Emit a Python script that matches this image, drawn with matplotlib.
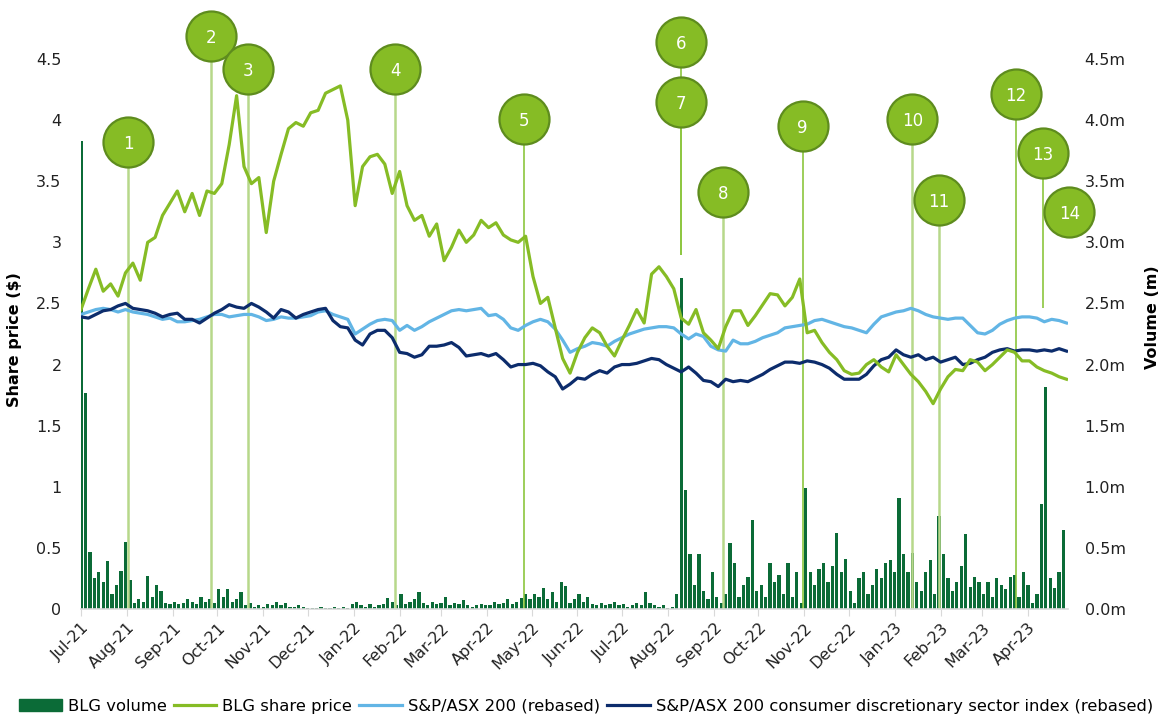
import numpy as np
import pandas as pd
import matplotlib
matplotlib.use('Agg')
import matplotlib.pyplot as plt
import matplotlib.dates as mdates
from matplotlib.patches import Patch
from matplotlib.lines import Line2D

# Price series, sampled every 5 days from 1 Jul 2021
price_dates = pd.date_range('2021-07-01', periods=134, freq='5D')

blg_price = [
    2.45, 2.62, 2.78, 2.60, 2.66, 2.56, 2.75, 2.83, 2.69, 3.00,
    3.04, 3.22, 3.32, 3.42, 3.25, 3.40, 3.22, 3.42, 3.40, 3.48,
    3.80, 4.20, 3.62, 3.48, 3.53, 3.08, 3.50, 3.72, 3.93, 3.98,
    3.95, 4.06, 4.08, 4.22, 4.25, 4.28, 4.00, 3.30, 3.62, 3.70,
    3.72, 3.64, 3.40, 3.58, 3.30, 3.18, 3.22, 3.05, 3.15, 2.85,
    2.96, 3.10, 3.00, 3.06, 3.18, 3.12, 3.16, 3.06, 3.02, 3.00,
    3.05, 2.72, 2.50, 2.55, 2.30, 2.05, 1.93, 2.10, 2.22, 2.30,
    2.26, 2.15, 2.07, 2.20, 2.32, 2.45, 2.34, 2.74, 2.80, 2.72,
    2.62, 2.38, 2.33, 2.45, 2.26, 2.20, 2.13, 2.31, 2.44, 2.44,
    2.32, 2.40, 2.49, 2.58, 2.57, 2.48, 2.55, 2.70, 2.26, 2.28,
    2.18, 2.10, 2.04, 1.95, 1.92, 1.93, 2.00, 2.04, 1.98, 1.94,
    2.08, 2.00, 1.92, 1.86, 1.78, 1.68, 1.80, 1.90, 1.96, 1.95,
    2.04, 2.02, 1.95, 2.00, 2.06, 2.12, 2.10, 2.03, 2.03, 1.98,
    1.95, 1.93, 1.90, 1.88,
]

asx200 = [
    2.41, 2.43, 2.45, 2.46, 2.45, 2.43, 2.45, 2.43, 2.42, 2.41,
    2.39, 2.37, 2.38, 2.35, 2.35, 2.36, 2.37, 2.39, 2.41, 2.41,
    2.39, 2.40, 2.41, 2.41, 2.39, 2.36, 2.37, 2.39, 2.38, 2.38,
    2.39, 2.40, 2.43, 2.44, 2.41, 2.39, 2.37, 2.25, 2.29, 2.33,
    2.36, 2.37, 2.36, 2.28, 2.32, 2.28, 2.31, 2.35, 2.38, 2.41,
    2.44, 2.45, 2.44, 2.45, 2.46, 2.40, 2.41, 2.37, 2.30, 2.28,
    2.32, 2.35, 2.37, 2.35, 2.29, 2.20, 2.10, 2.13, 2.15, 2.18,
    2.17, 2.15, 2.19, 2.22, 2.25, 2.27, 2.29, 2.30, 2.31, 2.31,
    2.30, 2.25, 2.21, 2.25, 2.23, 2.15, 2.12, 2.11, 2.20, 2.17,
    2.17, 2.19, 2.22, 2.24, 2.26, 2.30, 2.31, 2.32, 2.33, 2.36,
    2.37, 2.35, 2.33, 2.31, 2.30, 2.28, 2.26, 2.33, 2.39, 2.41,
    2.43, 2.44, 2.46, 2.44, 2.41, 2.39, 2.38, 2.37, 2.38, 2.38,
    2.32, 2.26, 2.25, 2.28, 2.33, 2.36, 2.38, 2.39, 2.39, 2.38,
    2.35, 2.37, 2.36, 2.34,
]

asx200_discretionary = [
    2.39, 2.38, 2.41, 2.44, 2.45, 2.48, 2.50, 2.46, 2.45, 2.44,
    2.42, 2.39, 2.41, 2.42, 2.37, 2.37, 2.34, 2.38, 2.42, 2.45,
    2.49, 2.47, 2.46, 2.50, 2.47, 2.43, 2.38, 2.45, 2.43, 2.38,
    2.41, 2.43, 2.45, 2.46, 2.36, 2.31, 2.30, 2.20, 2.16, 2.25,
    2.28, 2.28, 2.22, 2.10, 2.09, 2.06, 2.08, 2.15, 2.15, 2.16,
    2.18, 2.14, 2.07, 2.08, 2.09, 2.07, 2.09, 2.04, 1.98, 2.00,
    2.00, 2.01, 1.99, 1.94, 1.90, 1.80, 1.84, 1.89, 1.88, 1.92,
    1.95, 1.93, 1.98, 2.00, 2.00, 2.01, 2.03, 2.05, 2.04, 2.00,
    1.97, 1.94, 1.98, 1.93, 1.87, 1.86, 1.82, 1.88, 1.86, 1.87,
    1.86, 1.89, 1.92, 1.96, 1.99, 2.02, 2.02, 2.01, 2.03, 2.02,
    2.00, 1.97, 1.92, 1.88, 1.88, 1.88, 1.92, 1.99, 2.04, 2.06,
    2.12, 2.08, 2.06, 2.08, 2.04, 2.06, 2.02, 2.04, 2.06, 2.00,
    2.01, 2.04, 2.06, 2.10, 2.12, 2.13, 2.11, 2.12, 2.12, 2.11,
    2.12, 2.11, 2.13, 2.11,
]

# Volume (m), sampled every 3 days from 1 Jul 2021
vol_dates = pd.date_range('2021-07-01', periods=222, freq='3D')

blg_volume = [
    3.83, 1.77, 0.47, 0.25, 0.30, 0.22, 0.39, 0.12, 0.20, 0.31,
    0.55, 0.24, 0.05, 0.08, 0.06, 0.27, 0.10, 0.20, 0.15, 0.05,
    0.04, 0.06, 0.04, 0.05, 0.08, 0.06, 0.04, 0.10, 0.06, 0.08,
    0.05, 0.16, 0.10, 0.16, 0.06, 0.08, 0.14, 0.03, 0.05, 0.02,
    0.03, 0.02, 0.04, 0.03, 0.06, 0.03, 0.05, 0.02, 0.02, 0.03,
    0.02, 0.01, 0.01, 0.01, 0.02, 0.01, 0.01, 0.02, 0.01, 0.02,
    0.01, 0.04, 0.06, 0.03, 0.02, 0.04, 0.02, 0.03, 0.04, 0.09,
    0.06, 0.03, 0.12, 0.04, 0.06, 0.08, 0.14, 0.05, 0.03, 0.06,
    0.04, 0.05, 0.10, 0.03, 0.05, 0.04, 0.07, 0.03, 0.02, 0.03,
    0.04, 0.03, 0.03, 0.06, 0.04, 0.05, 0.08, 0.04, 0.06, 0.09,
    0.12, 0.08, 0.12, 0.10, 0.17, 0.08, 0.14, 0.06, 0.22, 0.19,
    0.05, 0.08, 0.12, 0.06, 0.10, 0.04, 0.03, 0.05, 0.03, 0.04,
    0.06, 0.03, 0.04, 0.02, 0.03, 0.05, 0.03, 0.14, 0.05, 0.03,
    0.02, 0.03, 0.01, 0.02,
    0.12, 2.71, 0.97, 0.45, 0.20, 0.45,
    0.15, 0.08, 0.30, 0.10, 0.05, 0.12, 0.54, 0.38, 0.10, 0.20,
    0.26, 0.73, 0.15, 0.20, 0.10, 0.38, 0.22, 0.28, 0.12, 0.38,
    0.10, 0.30, 0.05, 0.99, 0.30, 0.20, 0.33, 0.38, 0.22, 0.35,
    0.62, 0.30, 0.41, 0.15, 0.05, 0.25, 0.30, 0.12, 0.20, 0.33,
    0.25, 0.38, 0.40, 0.30, 0.91, 0.45, 0.30, 0.46, 0.22, 0.15,
    0.30, 0.40, 0.12, 0.76, 0.45, 0.25, 0.15, 0.22, 0.35, 0.61,
    0.18, 0.26, 0.22, 0.12, 0.22, 0.10, 0.25, 0.20, 0.16, 0.26,
    0.28, 0.10, 0.30, 0.20, 0.05, 0.12, 0.86, 1.82, 0.25, 0.17,
    0.30, 0.65,
]

# Numbered events
event_labels = ['1', '2', '3', '4', '5', '6', '7', '8', '9', '10', '11', '12', '13', '14']
event_dates = ['2021-08-02', '2021-09-27', '2021-10-22', '2022-01-29', '2022-04-26',
               '2022-08-10', '2022-08-10', '2022-09-07', '2022-10-31', '2023-01-13',
               '2023-01-31', '2023-03-24', '2023-04-11', '2023-04-29']
bubble_level = [3.82, 4.69, 4.42, 4.42, 4.01, 4.64, 4.15, 3.41, 3.95, 4.01, 3.35, 4.21, 3.73, 3.25]
stem_bottom = [0, 0, 0, 0, 0, 2.90, 2.90, 0, 0, 0, 0, 0, 2.46, None]
stem_strong = [False, False, False, False, True, True, True, False, True, False, False, True, True, False]

GREEN = '#86BC25'
LBLUE = '#62B5E5'
NAVY = '#0C2C6C'
VOLG = '#0B6B37'

fig = plt.figure(figsize=(11.72, 7.17), dpi=100)
ax = fig.add_axes([81 / 1172, 108 / 717, 987 / 1172, 550 / 717])
ax2 = ax.twinx()

ax2.bar(vol_dates, blg_volume, width=2.2, color=VOLG, linewidth=0)
ax2.set_ylim(0, 4.5)
ax2.set_yticks(np.arange(0, 4.51, 0.5))
ax2.set_yticklabels(['{:.1f}m'.format(v) for v in np.arange(0, 4.51, 0.5)])
ax2.tick_params(axis='y', length=0, pad=12, labelsize=11.5, colors='#222222')
ax2.set_ylabel('Volume (m)', fontsize=11.5, fontweight='bold')
ax2.yaxis.set_label_coords(1.078, 0.53)

ax.set_zorder(ax2.get_zorder() + 1)
ax.patch.set_visible(False)

# event stems
dts = pd.to_datetime(event_dates)
for d, lvl, bot, strong in zip(dts, bubble_level, stem_bottom, stem_strong):
    if bot is None:
        continue
    if strong:
        ax.vlines(d, bot, lvl, colors='#8CC63E', lw=1.2, zorder=1.5, clip_on=False)
    else:
        ax.vlines(d, bot, lvl, colors='#B7D88A', lw=1.8, zorder=1.5, clip_on=False)

ax.plot(price_dates, asx200, color=LBLUE, lw=2.3, zorder=3)
ax.plot(price_dates, asx200_discretionary, color=NAVY, lw=2.3, zorder=4)
ax.plot(price_dates, blg_price, color=GREEN, lw=2.3, zorder=5)

for d, lvl, lab in zip(dts, bubble_level, event_labels):
    ax.plot(d, lvl, 'o', ms=36, mfc=GREEN, mec='#5E8C1E', mew=1.6, clip_on=False, zorder=10)
    ax.text(d, lvl, lab, color='white', ha='center', va='center_baseline',
            fontsize=12, zorder=11, clip_on=False)

ax.set_xlim(pd.Timestamp('2021-07-01'), pd.Timestamp('2023-04-28'))
ax.set_ylim(0, 4.5)
ax.set_yticks(np.arange(0, 4.51, 0.5))
ax.set_yticklabels(['{:g}'.format(v) for v in np.arange(0, 4.51, 0.5)])
ax.tick_params(axis='y', length=0, pad=14, labelsize=11.5, colors='#222222')
ax.set_ylabel('Share price ($)', fontsize=11.5, fontweight='bold')
ax.yaxis.set_label_coords(-0.06, 0.49)

ax.xaxis.set_major_locator(mdates.MonthLocator())
ax.xaxis.set_major_formatter(mdates.DateFormatter('%b-%y'))
ax.tick_params(axis='x', length=5, color='#D9D9D9', labelsize=11.5, pad=3, labelcolor='#222222')
for lab in ax.get_xticklabels():
    lab.set_rotation(45)
    lab.set_ha('right')
    lab.set_rotation_mode('anchor')

for s in ['top', 'left', 'right']:
    ax.spines[s].set_visible(False)
    ax2.spines[s].set_visible(False)
ax.spines['bottom'].set_color('#D9D9D9')
ax.spines['bottom'].set_linewidth(1.2)
ax2.spines['bottom'].set_visible(False)

handles = [Patch(color=VOLG),
           Line2D([], [], color=GREEN, lw=2.3),
           Line2D([], [], color=LBLUE, lw=2.3),
           Line2D([], [], color=NAVY, lw=2.3)]
labels = ['BLG volume', 'BLG share price', 'S&P/ASX 200 (rebased)',
          'S&P/ASX 200 consumer discretionary sector index (rebased)']
fig.legend(handles, labels, loc='lower center', bbox_to_anchor=(0.5, 0.002), ncol=4,
           frameon=False, fontsize=11.8, handlelength=2.6, handletextpad=0.35,
           columnspacing=0.45, borderpad=0.1, borderaxespad=0)

fig.savefig('out.png', dpi=100)
